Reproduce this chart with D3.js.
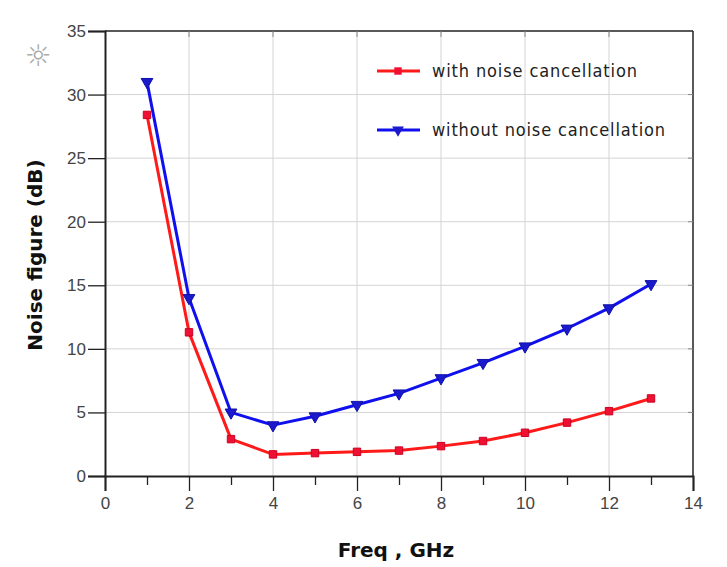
<!DOCTYPE html>
<html><head><meta charset="utf-8">
<script src="https://cdn.jsdelivr.net/npm/d3@7"></script>
<style>
body{margin:0;background:#fff;}
svg{display:block;}
</style></head>
<body>
<svg id="chart" width="727" height="567"></svg>
<script>
const freq = [1,2,3,4,5,6,7,8,9,10,11,12,13];
const withNC = [28.4,11.3,2.9,1.7,1.8,1.9,2.0,2.35,2.75,3.4,4.2,5.1,6.1];
const withoutNC = [31.0,14.0,5.0,4.0,4.7,5.6,6.5,7.7,8.9,10.2,11.6,13.2,15.1];
const xTicks = [0,2,4,6,8,10,12,14];
const xMinorTicks = [1,3,5,7,9,11,13];
const yTicks = [0,5,10,15,20,25,30,35];
const seriesNames = ["with noise cancellation","without noise cancellation"];
const seriesColors = ["#ff1a1a","#1010ee"];

const svg = d3.select("#chart");
const L=105, R=693, T=31, B=476;
const x = d3.scaleLinear().domain([0,14]).range([L,R]);
const y = d3.scaleLinear().domain([0,35]).range([B,T]);

// grid
const g = svg.append("g");
g.selectAll(".gx").data(xTicks.slice(1,-1)).enter().append("line")
  .attr("x1",d=>x(d)).attr("x2",d=>x(d)).attr("y1",T).attr("y2",B)
  .attr("stroke","#d4d4d4").attr("stroke-width",1);
g.selectAll(".gy").data(yTicks.slice(1,-1)).enter().append("line")
  .attr("x1",L).attr("x2",R).attr("y1",d=>y(d)).attr("y2",d=>y(d))
  .attr("stroke","#d4d4d4").attr("stroke-width",1);

// frame top/right
svg.append("line").attr("x1",L).attr("x2",R).attr("y1",T).attr("y2",T).attr("stroke","#222").attr("stroke-width",1.5);
svg.append("line").attr("x1",R).attr("x2",R).attr("y1",T).attr("y2",B).attr("stroke","#222").attr("stroke-width",1.5);
svg.selectAll(".tt").data(xTicks.slice(1,-1)).enter().append("line")
  .attr("x1",d=>x(d)).attr("x2",d=>x(d)).attr("y1",T).attr("y2",T+6).attr("stroke","#888");
svg.selectAll(".rt").data(yTicks.slice(1,-1)).enter().append("line")
  .attr("x1",R-5).attr("x2",R).attr("y1",d=>y(d)).attr("y2",d=>y(d)).attr("stroke","#888");

// axes
const xAxis = d3.axisBottom(x).tickValues(xTicks).tickSize(15).tickPadding(6).tickFormat(d3.format("d"));
const xa = svg.append("g").attr("transform",`translate(0,${B})`).call(xAxis);
xa.select(".domain").attr("stroke","#222").attr("stroke-width",2);
xa.selectAll(".tick line").attr("stroke","#222").attr("stroke-width",1.3);
xa.selectAll(".tick text").attr("font-family","Liberation Sans, Arial, sans-serif").attr("font-size",17).attr("fill","#444");
const xm = d3.axisBottom(x).tickValues(xMinorTicks).tickSize(9).tickFormat("");
const xma = svg.append("g").attr("transform",`translate(0,${B})`).call(xm);
xma.select(".domain").remove();
xma.selectAll(".tick line").attr("stroke","#222").attr("stroke-width",1.3);

const yAxis = d3.axisLeft(y).tickValues(yTicks).tickSize(17).tickPadding(2);
const ya = svg.append("g").attr("transform",`translate(${L},0)`).call(yAxis);
ya.select(".domain").attr("stroke","#222").attr("stroke-width",2);
ya.selectAll(".tick line").attr("stroke","#222").attr("stroke-width",1.3);
ya.selectAll(".tick text").attr("font-family","Liberation Sans, Arial, sans-serif").attr("font-size",17).attr("fill","#444");

// lines
const line = d3.line().x((d,i)=>x(freq[i])).y(d=>y(d));
const data = [withNC, withoutNC];
data.forEach((s,k)=>{
  svg.append("path").datum(s).attr("d",line).attr("fill","none")
    .attr("stroke",seriesColors[k]).attr("stroke-width",3).attr("stroke-linejoin","round");
});
// markers
const sq = d3.symbol().type(d3.symbolSquare).size(55);
const tri = d3.symbol().type(d3.symbolTriangle).size(60);
svg.selectAll(".m0").data(withNC).enter().append("path")
  .attr("d",sq).attr("transform",(d,i)=>`translate(${x(freq[i])},${y(d)})`)
  .attr("fill","#ee1133").attr("stroke","#cc0022").attr("stroke-width",1);
svg.selectAll(".m1").data(withoutNC).enter().append("path")
  .attr("d",tri).attr("transform",(d,i)=>`translate(${x(freq[i])},${y(d)}) rotate(180)`)
  .attr("fill","#1a1acc").attr("stroke","#1010aa").attr("stroke-width",1);

// legend
const legY = [71,130];
const legW = [205,233];
legY.forEach((ly,k)=>{
  svg.append("line").attr("x1",377).attr("x2",420).attr("y1",ly).attr("y2",ly)
    .attr("stroke",seriesColors[k]).attr("stroke-width",3);
  svg.append("path").attr("d",k===0?sq:tri)
    .attr("transform",k===0?`translate(398,${ly})`:`translate(398,${ly}) rotate(180)`)
    .attr("fill",k===0?"#ee1133":"#1a1acc");
  svg.append("text").attr("x",432).attr("y",ly+6).text(seriesNames[k])
    .attr("textLength",legW[k]).attr("lengthAdjust","spacing")
    .attr("font-family","DejaVu Sans Condensed, DejaVu Sans, sans-serif").attr("font-size",18).attr("fill","#222");
});

// axis titles
svg.append("text").attr("x",396).attr("y",557).attr("text-anchor","middle")
  .attr("font-family","DejaVu Sans, Verdana, sans-serif").attr("font-weight","bold").attr("font-size",20)
  .attr("fill","#111").text("Freq , GHz");
svg.append("text").attr("transform","translate(42,255) rotate(-90)").attr("text-anchor","middle")
  .attr("font-family","DejaVu Sans, Verdana, sans-serif").attr("font-weight","bold").attr("font-size",20)
  .attr("fill","#111").text("Noise figure (dB)");

// decorative icon
svg.append("text").attr("x",38).attr("y",66).attr("text-anchor","middle")
  .attr("font-size",30).attr("fill","#aaa").attr("font-family","DejaVu Sans").text("☼");
</script>
</body></html>
